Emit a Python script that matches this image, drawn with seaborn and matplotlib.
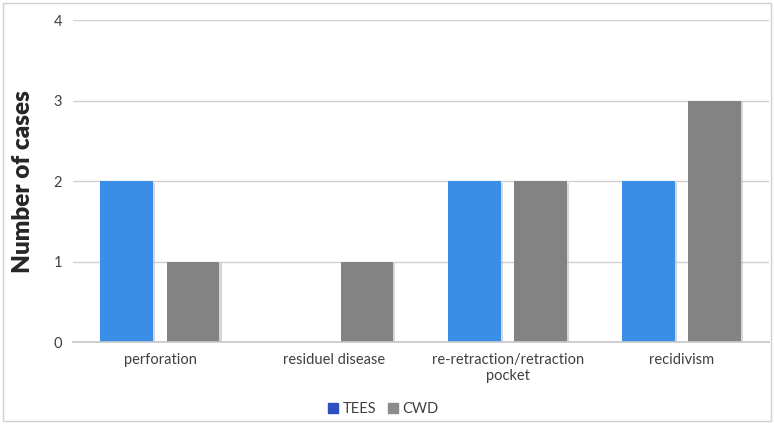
import pandas as pd
import matplotlib.pyplot as plt
import matplotlib.patheffects as pe
import seaborn as sns
from matplotlib.patches import Patch, Rectangle

categories = ['perforation', 'residuel disease', 're-retraction/retraction\npocket', 'recidivism']
tees_cases = [2, 0, 2, 2]
cwd_cases = [1, 1, 2, 3]
groups = ['TEES', 'CWD']

bar_colors = {'TEES': '#3A8EE8', 'CWD': '#838383'}
legend_colors = {'TEES': '#2E4FC0', 'CWD': '#8C8C8C'}

df = pd.DataFrame({
    'category': categories * 2,
    'group': [groups[0]] * len(categories) + [groups[1]] * len(categories),
    'cases': tees_cases + cwd_cases,
})

sns.set_theme(style='white')
plt.rcParams['font.family'] = ['Lato', 'DejaVu Sans']

fig = plt.figure(figsize=(7.74, 4.24), dpi=100)
ax = fig.add_axes([0.0943, 0.193, 0.899, 0.759])

sns.barplot(data=df, x='category', y='cases', hue='group', palette=bar_colors,
            width=0.76, gap=0.2, ax=ax, legend=False, saturation=1, linewidth=0)

# soft drop shadow like the office chart
for bar in ax.patches:
    bar.set_path_effects([pe.SimplePatchShadow(offset=(1.5, -1), shadow_rgbFace='#bbbbbb', alpha=0.6),
                          pe.Normal()])

ax.set_ylim(0, 4)
ax.set_yticks([0, 1, 2, 3, 4])
ax.yaxis.grid(True, color='#D0D0D0', linewidth=1)
ax.set_axisbelow(True)
for s in ['top', 'right', 'left']:
    ax.spines[s].set_visible(False)
ax.spines['bottom'].set_color('#C8C8C8')
ax.tick_params(axis='both', length=0, labelsize=10.5, colors='#404040', pad=8)
ax.set_xlabel('')
ax.set_ylabel('Number of cases', fontsize=17.5, fontweight='heavy', color='#262626', labelpad=14)

handles = [Patch(color=legend_colors[g], label=g) for g in groups]
fig.legend(handles=handles, loc='center', bbox_to_anchor=(0.495, 0.035), ncol=2,
           frameon=False, fontsize=10.5, handlelength=0.7, handleheight=0.7,
           handletextpad=0.3, columnspacing=0.8, labelcolor='#404040')

fig.patches.append(Rectangle((0.004, 0.007), 0.992, 0.986, transform=fig.transFigure,
                             fill=False, edgecolor='#D0D0D0', linewidth=1))

fig.savefig('out.png', dpi=100)
plt.close()
